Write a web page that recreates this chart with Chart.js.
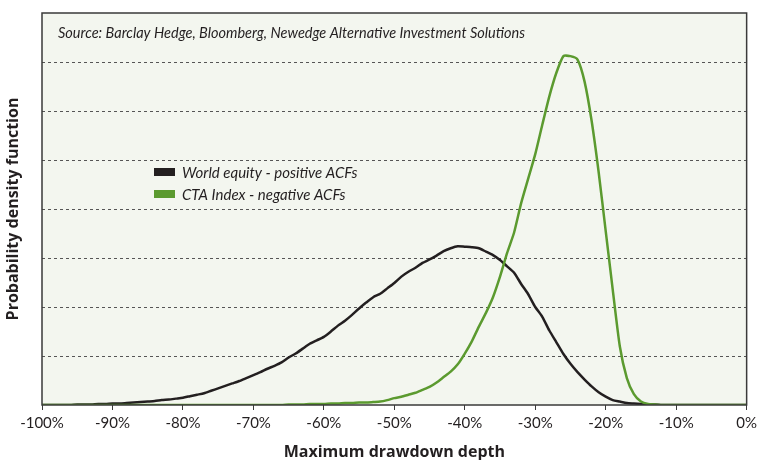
<!DOCTYPE html>
<html>
<head>
<meta charset="utf-8">
<script src="https://cdn.jsdelivr.net/npm/chart.js@4.4.1/dist/chart.umd.min.js"></script>
<style>
  html, body { margin: 0; padding: 0; background: #fff; }
  #wrap { width: 761px; height: 460px; position: relative; }
</style>
</head>
<body>
<div id="wrap"><canvas id="c"></canvas></div>
<script>
// drawdown depth, -100% .. 0% in 1% steps
const depth = [];
for (let d = -100; d <= 0; d++) depth.push(d);

const equityPdf = [
  0, 0, 0, 0, 0, 0.01, 0.01, 0.01, 0.02, 0.02,
  0.03, 0.03, 0.04, 0.05, 0.06, 0.07, 0.08, 0.10, 0.11, 0.13,
  0.15, 0.18, 0.21, 0.24, 0.29, 0.34, 0.39, 0.44, 0.49, 0.55,
  0.61, 0.67, 0.74, 0.80, 0.87, 0.97, 1.05, 1.15, 1.25, 1.32,
  1.39, 1.50, 1.62, 1.72, 1.84, 1.97, 2.09, 2.20, 2.27, 2.38,
  2.49, 2.62, 2.72, 2.80, 2.90, 2.97, 3.05, 3.14, 3.20, 3.24,
  3.23, 3.22, 3.20, 3.13, 3.06, 2.96, 2.83, 2.70, 2.47, 2.26,
  2.00, 1.80, 1.52, 1.28, 1.04, 0.84, 0.67, 0.52, 0.38, 0.26,
  0.17, 0.10, 0.07, 0.04, 0.03, 0.02, 0.01, 0.01, 0, 0,
  0, 0, 0, 0, 0, 0, 0, 0, 0, 0,
  0
];

const ctaPdf = [
  0, 0, 0, 0, 0, 0, 0, 0, 0, 0,
  0, 0, 0, 0, 0, 0, 0, 0, 0, 0,
  0, 0, 0, 0, 0, 0, 0, 0, 0, 0,
  0, 0, 0, 0, 0, 0.01, 0.01, 0.01, 0.02, 0.02,
  0.02, 0.03, 0.03, 0.04, 0.04, 0.05, 0.05, 0.06, 0.07, 0.10,
  0.14, 0.17, 0.21, 0.25, 0.31, 0.37, 0.46, 0.57, 0.68, 0.83,
  1.05, 1.30, 1.60, 1.88, 2.20, 2.62, 3.10, 3.52, 4.12, 4.62,
  5.12, 5.72, 6.30, 6.78, 7.12, 7.12, 7.05, 6.60, 5.80, 4.75,
  3.55, 2.35, 1.20, 0.55, 0.22, 0.07, 0.02, 0.01, 0, 0,
  0, 0, 0, 0, 0, 0, 0, 0, 0, 0,
  0
];

const seriesNames = ["World equity - positive ACFs", "CTA Index - negative ACFs"];
const seriesColors = ["#231f20", "#5b9a2f"];
const sourceNote = "Source: Barclay Hedge, Bloomberg, Newedge Alternative Investment Solutions";

const toPoints = (ys) => ys.map((y, i) => ({ x: depth[i], y: y }));

const plotDecor = {
  id: "plotDecor",
  beforeDraw(chart) {
    const { ctx, chartArea: a } = chart;
    ctx.save();
    ctx.fillStyle = "#f3f6ef";
    ctx.fillRect(a.left, a.top, a.right - a.left, a.bottom - a.top);
    ctx.restore();
  },
  afterDatasetsDraw(chart) {
    const { ctx, chartArea: a } = chart;
    ctx.save();
    // frame
    ctx.strokeStyle = "#3a3a3a";
    ctx.lineWidth = 1.5;
    ctx.strokeRect(a.left, a.top, a.right - a.left, a.bottom - a.top);
    // source note
    ctx.fillStyle = "#231f20";
    ctx.font = "italic 14.5px Lato";
    ctx.textBaseline = "middle";
    ctx.fillText(sourceNote, a.left + 16, a.top + 20);
    // legend
    ctx.font = "italic 15px Lato";
    chart.data.datasets.forEach((ds, i) => {
      const y = 172 + i * 22;
      ctx.fillStyle = ds.borderColor;
      ctx.fillRect(154, y - 4, 21, 8);
      ctx.fillStyle = "#231f20";
      ctx.fillText(ds.label, 182, y + 1);
    });
    ctx.restore();
  }
};

new Chart(document.getElementById("c"), {
  type: "line",
  data: {
    datasets: [
      { label: seriesNames[0], data: toPoints(equityPdf), borderColor: seriesColors[0], order: 1 },
      { label: seriesNames[1], data: toPoints(ctaPdf), borderColor: seriesColors[1], order: 0 }
    ]
  },
  options: {
    responsive: true,
    maintainAspectRatio: false,
    animation: false,
    layout: { padding: { top: 13, right: 12, left: 0, bottom: 0 } },
    elements: {
      point: { radius: 0 },
      line: { borderWidth: 2.5, tension: 0.2, fill: false }
    },
    plugins: { legend: { display: false }, tooltip: { enabled: false } },
    scales: {
      x: {
        type: "linear",
        min: -100,
        max: 0,
        afterFit: (s) => { s.height = 55; },
        ticks: {
          stepSize: 10,
          color: "#231f20",
          font: { family: "Lato", size: 15 },
          padding: 4,
          callback: (v) => v + "%"
        },
        grid: { drawOnChartArea: false, drawTicks: true, tickLength: 5, color: "#3a3a3a" },
        border: { display: false },
        title: {
          display: true,
          text: "Maximum drawdown depth",
          color: "#231f20",
          font: { family: "Open Sans", size: 16, weight: "bold" },
          padding: { top: 4, bottom: -2 }
        }
      },
      y: {
        min: 0,
        max: 8,
        afterFit: (s) => { s.width = 42; },
        ticks: { display: false, stepSize: 1 },
        grid: {
          drawTicks: false,
          color: (c) => (c.tick.value > 0 && c.tick.value < 8 ? "#555" : "rgba(0,0,0,0)"),
          lineWidth: 1
        },
        border: { display: false, dash: [3, 3] },
        title: {
          display: true,
          text: "Probability density function",
          color: "#231f20",
          font: { family: "Open Sans", size: 16, weight: "bold" },
          padding: { bottom: 8 }
        }
      }
    }
  },
  plugins: [plotDecor]
});
</script>
</body>
</html>
